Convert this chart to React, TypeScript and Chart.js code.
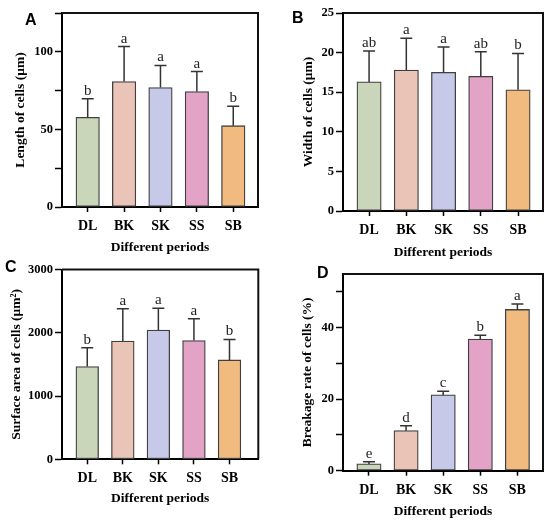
import { useEffect, useRef } from 'react';
import { Chart, registerables } from 'chart.js';

Chart.register(...registerables);

const categories = ['DL', 'BK', 'SK', 'SS', 'SB'];
const barColors = ['#c9d6b9', '#ebc4b8', '#c6c9e7', '#e2a3c7', '#f1bb80'];

// A: length of cells
const lengthMean = [57.8, 80.8, 77.0, 74.4, 52.4];
const lengthSd = [12.0, 22.6, 14.2, 12.9, 12.5];
const lengthLetters = ['b', 'a', 'a', 'a', 'b'];
const lengthTicks = [0, 50, 100];

// B: width of cells
const widthMean = [16.3, 17.8, 17.5, 17.0, 15.3];
const widthSd = [3.9, 4.0, 3.2, 3.1, 4.6];
const widthLetters = ['ab', 'a', 'a', 'ab', 'b'];
const widthTicks = [0, 5, 10, 15, 20, 25];

// C: surface area of cells
const areaMean = [1466, 1868, 2042, 1878, 1571];
const areaSd = [296, 513, 344, 344, 323];
const areaLetters = ['b', 'a', 'a', 'a', 'b'];
const areaTicks = [0, 1000, 2000, 3000];

// D: breakage rate of cells
const breakMean = [1.9, 11.2, 21.2, 36.8, 45.1];
const breakSd = [0.6, 1.4, 1.0, 1.1, 1.5];
const breakLetters = ['e', 'd', 'c', 'b', 'a'];
const breakTicks = [0, 20, 40];

const SERIF = "'Liberation Serif', 'Times New Roman', serif";

type PanelProps = {
  left: number;
  top: number;
  width: number;
  height: number;
  mean: number[];
  sd: number[];
  letters: string[];
  yMax: number;
  yStep: number;
  yLabels: number[];
  yTitle: string;
  padTop: number;
  padRight: number;
  yWidth: number;
  xHeight: number;
  xMin: number;
  xMax: number;
  barWidth: number;
  yTitlePad: number;
  xTitlePad: number;
};

const overlay = (mean: number[], sd: number[], letters: string[]) => ({
  id: 'overlay',
  afterDraw(chart: Chart) {
    const { ctx, chartArea, scales } = chart;
    const xs = scales.x;
    const ys = scales.y;
    ctx.save();
    // error bars (upper only) and significance letters
    ctx.strokeStyle = '#333';
    ctx.lineWidth = 1.5;
    mean.forEach((m, i) => {
      const px = xs.getPixelForValue(i);
      const yBar = ys.getPixelForValue(m);
      const yTop = ys.getPixelForValue(m + sd[i]);
      ctx.beginPath();
      ctx.moveTo(px, yBar);
      ctx.lineTo(px, yTop);
      ctx.moveTo(px - 6, yTop);
      ctx.lineTo(px + 6, yTop);
      ctx.stroke();
      ctx.fillStyle = '#222';
      ctx.font = `15px ${SERIF}`;
      ctx.textAlign = 'center';
      ctx.textBaseline = 'alphabetic';
      ctx.fillText(letters[i], px, yTop - 4);
    });
    // top and right frame
    ctx.strokeStyle = '#111';
    ctx.lineWidth = 2;
    ctx.beginPath();
    ctx.moveTo(chartArea.left, chartArea.top);
    ctx.lineTo(chartArea.right, chartArea.top);
    ctx.lineTo(chartArea.right, chartArea.bottom);
    ctx.stroke();
    ctx.restore();
  },
});

function Panel(p: PanelProps) {
  const canvas = useRef<HTMLCanvasElement>(null);

  useEffect(() => {
    const chart = new Chart(canvas.current as HTMLCanvasElement, {
      type: 'bar',
      data: {
        datasets: [
          {
            data: p.mean.map((v, i) => ({ x: i, y: v })),
            backgroundColor: barColors,
            borderColor: '#404040',
            borderWidth: 1.3,
            borderSkipped: false,
            barThickness: p.barWidth,
          },
        ],
      },
      options: {
        responsive: false,
        animation: false,
        layout: { padding: { top: p.padTop, right: p.padRight, left: 0, bottom: 0 } },
        plugins: { legend: { display: false }, tooltip: { enabled: false } },
        scales: {
          x: {
            type: 'linear',
            min: p.xMin,
            max: p.xMax,
            offset: false,
            z: 1,
            afterBuildTicks: (scale: any) => {
              scale.ticks = categories.map((_, i) => ({ value: i }));
            },
            afterFit: (scale: any) => {
              scale.height = p.xHeight;
            },
            border: { display: true, color: '#000', width: 2 },
            grid: { drawOnChartArea: false, drawTicks: true, tickLength: 5, tickWidth: 1.5, tickColor: '#000', offset: false },
            ticks: {
              autoSkip: false,
              maxRotation: 0,
              padding: 6,
              color: '#000',
              font: { family: SERIF, size: 14, weight: 'bold' },
              callback: (v: any) => categories[v as number],
            },
            title: {
              display: true,
              text: 'Different periods',
              color: '#000',
              font: { family: SERIF, size: 13.5, weight: 'bold', lineHeight: 1 },
              padding: { top: 0, bottom: p.xTitlePad },
            },
          },
          y: {
            type: 'linear',
            min: 0,
            max: p.yMax,
            z: 1,
            afterFit: (scale: any) => {
              scale.width = p.yWidth;
            },
            border: { display: true, color: '#000', width: 2 },
            grid: { drawOnChartArea: false, drawTicks: true, tickLength: 7, tickWidth: 1.5, tickColor: '#000' },
            ticks: {
              stepSize: p.yStep,
              includeBounds: false,
              padding: 2,
              color: '#000',
              font: { family: SERIF, size: 12.5, weight: 'bold' },
              callback: (v: any) => (p.yLabels.includes(v as number) ? String(v) : ''),
            },
            title: {
              display: true,
              text: p.yTitle,
              color: '#000',
              font: { family: SERIF, size: 13.5, weight: 'bold', lineHeight: 1 },
              padding: { top: p.yTitlePad, bottom: 0 },
            },
          },
        },
      },
      plugins: [overlay(p.mean, p.sd, p.letters)],
    } as any);

    return () => {
      chart.destroy();
    };
  }, []);

  return (
    <canvas
      ref={canvas}
      width={p.width}
      height={p.height}
      style={{ position: 'absolute', left: p.left, top: p.top, width: p.width, height: p.height }}
    />
  );
}

const labelStyle = (left: number, top: number): React.CSSProperties => ({
  position: 'absolute',
  left,
  top,
  fontFamily: "'Liberation Sans', Arial, sans-serif",
  fontWeight: 'bold',
  fontSize: 16,
  lineHeight: '16px',
  color: '#000',
});

export default function App() {
  return (
    <div style={{ position: 'absolute', left: 0, top: 0, width: 550, height: 523, background: '#fff', overflow: 'hidden' }}>
      <Panel
        left={0} top={0} width={275} height={260}
        mean={lengthMean} sd={lengthSd} letters={lengthLetters}
        yMax={125} yStep={25} yLabels={lengthTicks} yTitle="Length of cells (μm)"
        padTop={13} padRight={17} yWidth={62} xHeight={53}
        xMin={-0.706} xMax={4.68} barWidth={23.5} yTitlePad={14} xTitlePad={5.25}
      />
      <Panel
        left={275} top={0} width={275} height={260}
        mean={widthMean} sd={widthSd} letters={widthLetters}
        yMax={25} yStep={5} yLabels={widthTicks} yTitle="Width of cells (μm)"
        padTop={13} padRight={7} yWidth={68} xHeight={49}
        xMin={-0.7} xMax={4.67} barWidth={24.3} yTitlePad={26.5} xTitlePad={0.25}
      />
      <Panel
        left={0} top={260} width={275} height={263}
        mean={areaMean} sd={areaSd} letters={areaLetters}
        yMax={3000} yStep={1000} yLabels={areaTicks} yTitle="Surface area of cells (μm²)"
        padTop={9} padRight={16.7} yWidth={62} xHeight={63.7}
        xMin={-0.71} xMax={4.81} barWidth={22.7} yTitlePad={10.25} xTitlePad={17.25}
      />
      <Panel
        left={275} top={260} width={275} height={263}
        mean={breakMean} sd={breakSd} letters={breakLetters}
        yMax={55} yStep={10} yLabels={breakTicks} yTitle="Breakage rate of cells (%)"
        padTop={14} padRight={7} yWidth={68} xHeight={52.3}
        xMin={-0.7} xMax={4.69} barWidth={24.3} yTitlePad={25.95} xTitlePad={4.25}
      />
      <div style={labelStyle(25, 11.5)}>A</div>
      <div style={labelStyle(292, 10)}>B</div>
      <div style={labelStyle(5, 259)}>C</div>
      <div style={labelStyle(317, 265)}>D</div>
    </div>
  );
}
